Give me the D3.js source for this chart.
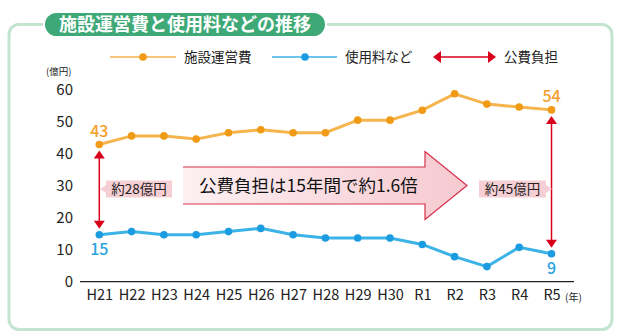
<!DOCTYPE html>
<html><head><meta charset="utf-8">
<script src="https://cdn.jsdelivr.net/npm/d3@7"></script>
<style>
html,body{margin:0;padding:0;background:#fff;}
svg{display:block;}
text{font-family:"Noto Sans CJK JP","Noto Sans",sans-serif;}
</style></head><body>
<script>
const categories = ["H21","H22","H23","H24","H25","H26","H27","H28","H29","H30","R1","R2","R3","R4","R5"];
const operatingCost = [42.7,45.4,45.4,44.4,46.4,47.3,46.4,46.4,50.3,50.3,53.4,58.5,55.3,54.4,53.5];
const usageFees = [14.6,15.6,14.6,14.6,15.6,16.6,14.6,13.6,13.6,13.6,11.6,7.8,4.7,10.7,8.7];
const yTicks = [0,10,20,30,40,50,60];
const seriesNames = ["施設運営費","使用料など","公費負担"];
const title = "施設運営費と使用料などの推移";
const endLabels = {first:["43","15"], last:["54","9"]};
const burdenLabels = ["約28億円","約45億円"];
const message = "公費負担は15年間で約1.6倍";

const W=625,H=336;
const NUMF='"Open Sans","Noto Sans",sans-serif';
const svg=d3.select("body").append("svg").attr("width",W).attr("height",H);
const defs=svg.append("defs");
const grad=defs.append("linearGradient").attr("id","ag").attr("x1","0").attr("x2","1");
grad.append("stop").attr("offset","0").attr("stop-color","#fdf0f2");
grad.append("stop").attr("offset","1").attr("stop-color","#f6c9d0");

const ORANGE_L="#f5b44c", ORANGE_D="#f09a15", BLUE_L="#3cb3e6", BLUE_D="#1b9ce0", RED="#d9001b";

// frame
svg.append("rect").attr("x",9).attr("y",24.5).attr("width",603).attr("height",305)
  .attr("rx",10).attr("fill","none").attr("stroke","#c3e4cf").attr("stroke-width",3);
// title pill
svg.append("rect").attr("x",44).attr("y",12).attr("width",282).attr("height",25).attr("rx",12.5)
  .attr("fill","#3ea977").attr("stroke","#fff").attr("stroke-width",2);
svg.append("text").attr("x",185).attr("y",31).attr("text-anchor","middle")
  .attr("fill","#fff").attr("font-size",18).attr("font-weight",700).text(title);

const x=d3.scalePoint().domain(categories).range([99.3,551.5]);
const y=d3.scaleLinear().domain([0,60]).range([281.7,89]);

// y axis labels
svg.append("g").selectAll("text").data(yTicks).join("text")
  .attr("x",73).attr("y",d=>y(d)+5.5).attr("text-anchor","end")
  .attr("font-family",NUMF).attr("font-size",15).attr("fill","#222").text(d=>d);
svg.append("text").attr("x",46).attr("y",75).attr("font-size",9.5).attr("fill","#222").text("(億円)");

// x axis
const xa=svg.append("g").attr("transform",`translate(0,${y(0)})`)
  .call(d3.axisBottom(x).tickSize(0).tickPadding(8));
xa.select(".domain").attr("d","M80,0H574").attr("stroke","#222").attr("stroke-width",1.2);
xa.selectAll("text").attr("font-size",14.5).attr("fill","#222").attr("font-family",NUMF);
svg.append("text").attr("x",565).attr("y",301).attr("font-size",10).attr("fill","#222").text("(年)");

// lines
const line=d3.line().x((d,i)=>x(categories[i])).y(d=>y(d));
function series(data,lc,dc){
  svg.append("path").attr("d",line(data)).attr("fill","none").attr("stroke",lc).attr("stroke-width",3);
  svg.append("g").selectAll("circle").data(data).join("circle")
    .attr("cx",(d,i)=>x(categories[i])).attr("cy",d=>y(d)).attr("r",3.8).attr("fill",dc);
}
series(operatingCost,ORANGE_L,ORANGE_D);
series(usageFees,BLUE_L,BLUE_D);

// end labels
const f=categories[0], l=categories[categories.length-1];
function endLabel(cx,cy,txt,col){
  svg.append("text").attr("x",cx).attr("y",cy).attr("text-anchor","middle")
    .attr("font-family",NUMF).attr("font-size",16).attr("font-weight",500).attr("fill",col).text(txt);
}
endLabel(x(f),y(operatingCost[0])-8,endLabels.first[0],"#f2a02a");
endLabel(x(f),y(usageFees[0])+20,endLabels.first[1],"#2aa3e0");
endLabel(x(l),y(operatingCost[14])-8,endLabels.last[0],"#f2a02a");
endLabel(x(l),y(usageFees[14])+20,endLabels.last[1],"#2aa3e0");

// vertical double arrows
function vArrow(cx,y1,y2){
  const g=svg.append("g");
  g.append("line").attr("x1",cx).attr("x2",cx).attr("y1",y1+6).attr("y2",y2-6).attr("stroke",RED).attr("stroke-width",1.5);
  g.append("path").attr("d",`M${cx},${y1}L${cx-5.5},${y1+8}L${cx+5.5},${y1+8}Z`).attr("fill",RED);
  g.append("path").attr("d",`M${cx},${y2}L${cx-5.5},${y2-8}L${cx+5.5},${y2-8}Z`).attr("fill",RED);
}
vArrow(x(f),y(operatingCost[0])+6,y(usageFees[0])-6);
vArrow(x(l),y(operatingCost[14])+6,y(usageFees[14])-6);

// callouts
function callout(x0,x1,yc,text,side){
  const g=svg.append("g");
  let d;
  if(side==="left") d=`M${x0},${yc-8.5}L${x1},${yc-8.5}L${x1},${yc+8.5}L${x0},${yc+8.5}L${x0},${yc+4}L${x0-6},${yc}L${x0},${yc-4}Z`;
  else d=`M${x0},${yc-8.5}L${x1},${yc-8.5}L${x1},${yc-4}L${x1+6},${yc}L${x1},${yc+4}L${x1},${yc+8.5}L${x0},${yc+8.5}Z`;
  g.append("path").attr("d",d).attr("fill","#f6cfd5");
  g.append("text").attr("x",(x0+x1)/2).attr("y",yc+5).attr("text-anchor","middle")
    .attr("font-size",13.5).attr("fill","#222").text(text);
}
callout(106,172,189,burdenLabels[0],"left");
callout(479,546,189,burdenLabels[1],"right");

// big arrow
const ax0=183, ax1=425, tip=467, ayc=185.5, bh=18.5, hh=34;
svg.append("path").attr("d",`M${ax0},${ayc-bh}L${ax1},${ayc-bh}L${ax1},${ayc-hh}L${tip},${ayc}L${ax1},${ayc+hh}L${ax1},${ayc+bh}L${ax0},${ayc+bh}`)
  .attr("fill","url(#ag)").attr("stroke","#d8304a").attr("stroke-width",1.2);
svg.append("text").attr("x",199).attr("y",192).attr("font-size",17.5).attr("fill","#111").text(message);

// legend
const ly=57;
const lg=svg.append("g");
lg.append("line").attr("x1",110).attr("x2",176).attr("y1",ly).attr("y2",ly).attr("stroke",ORANGE_L).attr("stroke-width",1.5);
lg.append("circle").attr("cx",143).attr("cy",ly).attr("r",3.8).attr("fill",ORANGE_D);
lg.append("text").attr("x",184).attr("y",ly+5).attr("font-size",13.5).attr("fill","#222").text(seriesNames[0]);
lg.append("line").attr("x1",272).attr("x2",337).attr("y1",ly).attr("y2",ly).attr("stroke",BLUE_L).attr("stroke-width",1.5);
lg.append("circle").attr("cx",305).attr("cy",ly).attr("r",3.8).attr("fill",BLUE_D);
lg.append("text").attr("x",345).attr("y",ly+5).attr("font-size",13.5).attr("fill","#222").text(seriesNames[1]);
lg.append("line").attr("x1",438).attr("x2",491).attr("y1",ly).attr("y2",ly).attr("stroke",RED).attr("stroke-width",1.5);
lg.append("path").attr("d",`M433,${ly}L441,${ly-6}L441,${ly+6}Z`).attr("fill",RED);
lg.append("path").attr("d",`M496,${ly}L488,${ly-6}L488,${ly+6}Z`).attr("fill",RED);
lg.append("text").attr("x",504).attr("y",ly+5).attr("font-size",13.5).attr("fill","#222").text(seriesNames[2]);
</script>
</body></html>
